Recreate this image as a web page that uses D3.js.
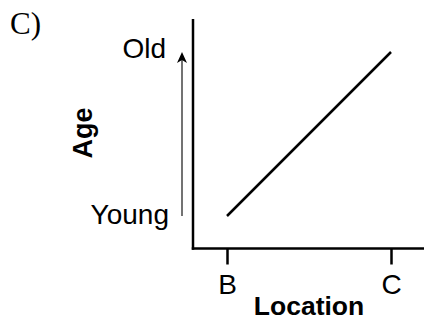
<!DOCTYPE html>
<html>
<head>
<meta charset="utf-8">
<script src="https://cdn.jsdelivr.net/npm/d3@7"></script>
<style>
  body { margin: 0; background: #fff; }
  svg { display: block; }
  text { font-family: "Liberation Sans", Arial, Helvetica, sans-serif; fill: #000; }
</style>
</head>
<body>
<script>
// chart data
const locations = ['B', 'C'];
const ages = [0, 1];              // relative age at each location
const ageLabels = ['Young', 'Old'];
const panelLabel = 'C)';

const width = 424;
const height = 320;

const svg = d3.select('body').append('svg')
  .attr('width', width)
  .attr('height', height);

const x = d3.scalePoint()
  .domain(locations)
  .range([227, 391]);

const y = d3.scaleLinear()
  .domain([0, 1])
  .range([216, 52]);

const axisX = 193;   // where the y axis sits
const axisY = 248.5; // where the x axis sits

// panel letter
svg.append('text')
  .attr('x', 10)
  .attr('y', 34)
  .style('font-family', '"Liberation Serif", "Times New Roman", serif')
  .style('font-size', '31px')
  .text(panelLabel);

// axes
svg.append('line')
  .attr('x1', axisX).attr('x2', axisX)
  .attr('y1', 19).attr('y2', axisY + 1.25)
  .attr('stroke', '#000')
  .attr('stroke-width', 2.5);

svg.append('line')
  .attr('x1', axisX - 1.25).attr('x2', width)
  .attr('y1', axisY).attr('y2', axisY)
  .attr('stroke', '#000')
  .attr('stroke-width', 2.5);

const xAxis = svg.append('g')
  .attr('transform', `translate(0,${axisY})`)
  .call(d3.axisBottom(x).tickSize(16).tickPadding(10));

xAxis.select('.domain').remove();
xAxis.selectAll('.tick line')
  .attr('stroke', '#000')
  .attr('stroke-width', 2.5);
xAxis.selectAll('.tick text')
  .attr('dy', '0.71em')
  .style('font-family', '"Liberation Sans", Arial, sans-serif')
  .style('font-size', '28px')
  .attr('fill', '#000');

// x axis title
svg.append('text')
  .attr('x', (x('B') + x('C')) / 2)
  .attr('y', 315)
  .attr('text-anchor', 'middle')
  .style('font-size', '26.5px')
  .style('font-weight', 'bold')
  .text('Location');

// y axis title
svg.append('text')
  .attr('transform', `translate(92,133) rotate(-90)`)
  .attr('text-anchor', 'middle')
  .style('font-size', '27px')
  .style('font-weight', 'bold')
  .text('Age');

// age arrow
const arrowX = 182;
svg.append('line')
  .attr('x1', arrowX).attr('x2', arrowX)
  .attr('y1', y(0)).attr('y2', y(1) + 6)
  .attr('stroke', '#444')
  .attr('stroke-width', 1.5);

svg.append('path')
  .attr('d', `M${arrowX - 5},${y(1) + 11} L${arrowX},${y(1)} L${arrowX + 5},${y(1) + 11} L${arrowX},${y(1) + 8} Z`)
  .attr('fill', '#000');

// age labels
svg.selectAll('.age-label')
  .data(ageLabels)
  .enter().append('text')
  .attr('class', 'age-label')
  .attr('x', (d, i) => i === 0 ? 169 : 166)
  .attr('y', (d, i) => y(i) + (i === 0 ? 8 : 6))
  .attr('text-anchor', 'end')
  .style('font-size', '28px')
  .text(d => d);

// the trend line
const line = d3.line()
  .x((d, i) => x(locations[i]))
  .y(d => y(d));

svg.append('path')
  .datum(ages)
  .attr('d', line)
  .attr('fill', 'none')
  .attr('stroke', '#000')
  .attr('stroke-width', 2.5);
</script>
</body>
</html>
